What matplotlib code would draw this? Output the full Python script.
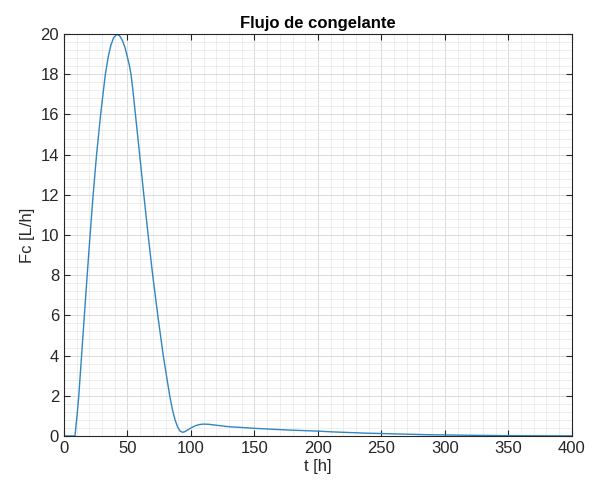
import matplotlib.pyplot as plt
from matplotlib.ticker import MultipleLocator

# Coolant flow
t_h = [0, 5, 8.7, 10.3, 11.7, 13.9, 16.1, 18.3, 20.6, 23.0, 25.7, 28.9, 32.6,
       35, 37, 39, 41, 42, 44, 46, 48, 50, 51.5, 52.8, 54.5, 56.3, 59.6, 62.9,
       66.3, 69.9, 73.9, 78.2, 83.3, 85.5, 87.5, 89.5, 91.5, 93.5,
       95.5, 98, 101, 104, 107, 110, 114, 118, 124, 130, 140, 150, 162, 175,
       187, 200, 212, 225, 237, 250, 262, 275, 287, 300, 325, 350, 375, 400]
fc = [0, 0, 0, 1, 2, 4, 6, 8, 10, 12, 14, 16, 18,
      18.9, 19.45, 19.8, 19.95, 19.97, 19.9, 19.68, 19.35, 18.85, 18.45, 18, 17.1, 16, 14, 12,
      10, 8, 6, 4, 2, 1.3, 0.8, 0.45, 0.24, 0.18,
      0.22, 0.32, 0.43, 0.52, 0.57, 0.59, 0.58, 0.55, 0.5, 0.46, 0.42, 0.38, 0.34, 0.3,
      0.27, 0.24, 0.2, 0.17, 0.14, 0.12, 0.1, 0.08, 0.06, 0.05, 0.03, 0.015, 0.008, 0.004]

plt.rcParams['font.family'] = ['Liberation Sans', 'DejaVu Sans']

fig = plt.figure(figsize=(5.92, 4.86), dpi=100)
ax = fig.add_axes([0.108, 0.103, 0.858, 0.827])

ax.plot(t_h, fc, color='#2f86c2', lw=1.0)

ax.set_xlim(0, 400)
ax.set_ylim(0, 20)
ax.xaxis.set_major_locator(MultipleLocator(50))
ax.xaxis.set_minor_locator(MultipleLocator(10))
ax.yaxis.set_major_locator(MultipleLocator(2))
ax.yaxis.set_minor_locator(MultipleLocator(0.4))

ax.grid(which='major', color='#d6d6d6', lw=0.6)
ax.grid(which='minor', color='#e8e8e8', lw=0.5)
ax.set_axisbelow(True)

ax.tick_params(which='major', direction='in', length=4, width=0.8, colors='#262626',
               labelsize=12, top=True, right=True)
ax.tick_params(which='minor', length=0, top=True, right=True)
for s in ax.spines.values():
    s.set_color('#262626')
    s.set_linewidth(0.8)

ax.set_title('Flujo de congelante', fontsize=12, fontweight='bold', pad=4)
ax.set_xlabel('t [h]', fontsize=12, color='#262626', labelpad=2)
ax.set_ylabel('Fc [L/h]', fontsize=12, color='#262626', labelpad=4)

fig.savefig('out.png', dpi=100)
